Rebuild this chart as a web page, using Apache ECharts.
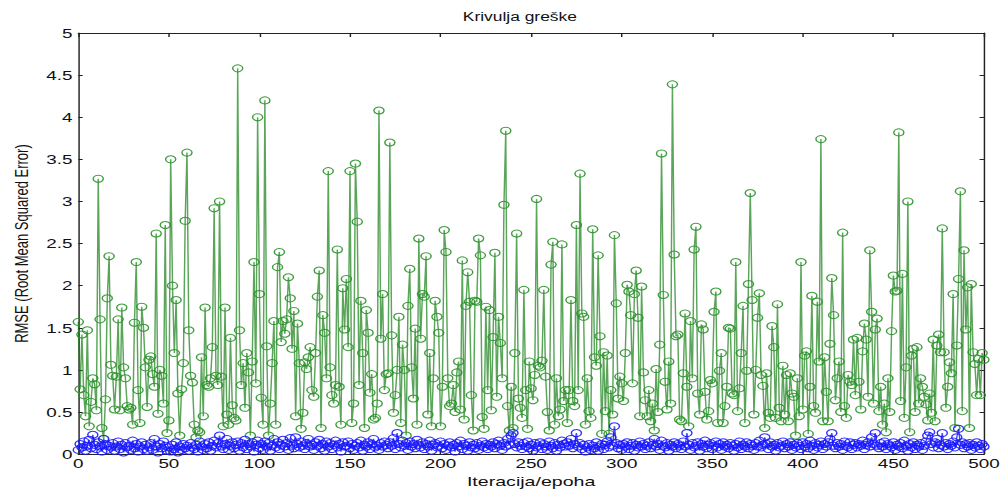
<!DOCTYPE html>
<html>
<head>
<meta charset="utf-8">
<script src="https://cdn.jsdelivr.net/npm/echarts@6/dist/echarts.min.js"></script>
<style>
html,body{margin:0;padding:0;background:#fff;overflow:hidden;width:1004px;height:494px;}
#chart{width:692px;height:494px;transform:scaleX(1.4509);transform-origin:0 0;}
</style>
</head>
<body>
<div id="chart"></div>
<script>
// Chart title and axis names
const chartTitle = 'Krivulja greške';
const xName = 'Iteracija/epoha';
const yName = 'RMSE (Root Mean Squared Error)';

// Green series (RMSE per iteration 0..500)
const rmseGreen = [
1.57,0.77,1.42,0.7,0.45,1.47,0.33,0.62,0.9,0.83,
0.52,3.27,1.6,0.31,0.18,0.65,1.85,2.35,1.06,0.93,
0.53,0.92,1.6,0.52,1.74,1.03,0.9,0.57,0.53,0.55,
0.35,1.56,2.28,0.76,0.37,1.75,1.5,1.03,0.56,1.12,
1.16,0.95,0.8,2.62,0.48,1.0,0.93,0.6,2.72,0.25,
0.4,3.5,2.0,1.2,1.83,0.72,0.22,0.77,1.08,2.77,
3.58,1.47,0.93,0.85,0.35,0.2,0.28,0.26,1.15,0.45,
1.74,0.82,0.8,0.9,1.27,2.92,0.93,0.82,3.0,0.92,
0.33,1.74,0.47,0.35,1.38,0.58,0.43,0.4,4.58,1.47,
0.82,1.08,0.55,1.2,0.97,0.22,1.1,2.28,0.84,4.0,
1.9,0.67,0.35,4.2,1.28,0.22,0.6,1.08,1.58,0.35,
2.22,2.4,1.33,1.58,1.43,1.6,2.1,1.85,1.25,1.7,
0.45,1.55,1.08,0.3,0.49,1.09,1.01,1.15,1.27,0.76,
0.68,1.2,1.87,2.18,0.31,1.65,1.44,0.9,3.36,1.03,
0.7,0.6,0.82,2.43,0.8,0.35,1.97,1.48,2.08,1.27,
3.36,0.37,0.6,3.45,2.76,0.82,1.82,1.2,0.31,1.71,
1.44,0.73,0.95,0.41,0.43,0.6,4.08,1.37,1.9,0.76,
0.95,0.96,3.7,1.41,0.49,0.7,1.0,1.63,0.37,1.3,
1.0,0.22,1.76,2.2,1.03,0.66,1.49,0.35,2.56,1.37,
1.9,1.87,2.35,0.47,1.2,0.33,0.9,1.82,1.63,1.44,
0.33,0.8,2.66,2.4,0.9,0.57,0.6,0.82,0.5,0.97,
1.1,0.53,2.3,0.41,1.76,2.16,1.81,0.7,0.28,1.82,
1.81,2.56,2.36,0.44,0.3,1.75,0.76,1.71,0.52,1.39,
2.39,0.68,1.63,1.32,0.9,2.96,3.84,0.57,0.28,0.8,
0.31,1.2,2.62,0.66,0.55,0.43,1.95,0.76,0.3,1.1,
0.78,0.64,0.94,3.03,1.05,1.03,1.11,1.95,0.92,0.5,
0.28,2.25,2.52,0.35,0.9,0.45,0.53,2.49,0.63,0.76,
0.37,0.76,1.83,0.63,0.57,2.72,0.76,3.33,1.67,1.63,
0.35,0.9,0.51,0.43,2.67,1.15,1.05,2.36,1.4,0.24,
1.21,0.51,1.17,0.24,0.76,0.47,2.6,1.79,0.66,0.92,
0.84,0.63,1.2,2.01,1.93,1.65,0.84,1.9,2.18,1.62,
0.45,1.99,0.97,0.64,0.45,0.76,0.39,0.6,0.28,1.01,
0.5,1.3,3.57,1.89,0.86,0.53,1.1,0.6,4.39,2.37,
1.4,1.42,0.41,0.39,0.96,1.67,0.8,0.33,1.58,0.9,
2.43,2.7,0.72,0.47,1.54,1.48,0.74,0.41,0.51,0.88,
0.84,1.69,1.93,0.37,0.99,1.2,0.37,0.57,0.8,1.5,
1.49,0.72,0.7,2.28,0.51,0.78,1.2,1.76,0.37,0.99,
2.02,3.1,1.83,0.47,1.0,1.62,1.91,0.94,0.81,0.31,
0.96,0.49,0.43,1.52,1.27,0.43,1.78,0.55,0.39,1.05,
0.47,0.94,0.39,0.96,0.72,0.68,0.22,0.9,0.45,2.28,
0.53,1.17,1.22,0.24,0.8,1.88,0.57,0.49,1.81,1.1,
3.74,0.39,1.15,0.74,0.39,1.31,2.09,1.65,0.64,0.9,
1.1,0.5,2.63,0.57,0.43,0.94,0.86,0.82,1.36,0.7,
1.38,0.86,0.53,1.22,1.55,1.36,0.68,2.42,1.69,0.6,
1.48,1.61,0.51,0.8,0.35,0.6,0.26,0.9,0.5,1.46,
2.12,1.93,1.94,3.82,0.63,2.14,0.43,1.03,3.0,0.26,
1.17,1.25,0.5,1.27,0.6,0.9,0.8,0.68,0.59,0.4,
0.72,0.49,1.36,0.39,1.29,1.42,1.21,2.68,1.21,0.55,
0.8,1.09,0.96,1.9,0.31,1.29,2.08,3.12,0.51,2.42,
1.48,1.98,0.31,2.02,1.21,1.07,0.7,1.13,0.7,1.2,
1.12
];

// Blue series (RMSE per iteration 0..500)
const rmseBlue = [
0.05,0.12,0.08,0.15,0.04,0.1,0.17,0.07,0.23,0.11,
0.06,0.14,0.09,0.03,0.18,0.12,0.05,0.1,0.08,0.13,
0.04,0.09,0.15,0.06,0.11,0.02,0.13,0.08,0.1,0.05,
0.16,0.07,0.12,0.03,0.09,0.14,0.06,0.11,0.04,0.08,
0.13,0.05,0.18,0.09,0.02,0.12,0.07,0.15,0.1,0.04,
0.08,0.03,0.11,0.06,0.14,0.02,0.09,0.05,0.12,0.07,
0.1,0.04,0.13,0.08,0.06,0.11,0.03,0.15,0.09,0.05,
0.12,0.07,0.14,0.04,0.1,0.16,0.08,0.13,0.22,0.09,
0.06,0.12,0.18,0.05,0.1,0.14,0.07,0.11,0.15,0.04,
0.13,0.08,0.17,0.06,0.12,0.09,0.14,0.03,0.11,0.16,
0.07,0.12,0.05,0.15,0.09,0.13,0.04,0.1,0.18,0.08,
0.14,0.06,0.11,0.17,0.09,0.13,0.05,0.19,0.1,0.07,
0.2,0.12,0.08,0.15,0.1,0.06,0.13,0.18,0.09,0.11,
0.05,0.14,0.1,0.17,0.07,0.12,0.04,0.15,0.09,0.13,
0.06,0.11,0.16,0.08,0.12,0.03,0.14,0.09,0.1,0.15,
0.07,0.12,0.05,0.1,0.13,0.08,0.16,0.04,0.11,0.09,
0.14,0.06,0.12,0.18,0.08,0.1,0.05,0.13,0.09,0.15,
0.11,0.07,0.14,0.1,0.19,0.06,0.25,0.12,0.08,0.16,
0.1,0.13,0.05,0.15,0.09,0.12,0.07,0.17,0.11,0.08,
0.14,0.06,0.12,0.09,0.16,0.04,0.11,0.13,0.08,0.1,
0.15,0.07,0.12,0.05,0.1,0.14,0.08,0.11,0.03,0.13,
0.09,0.16,0.06,0.12,0.1,0.04,0.14,0.08,0.11,0.07,
0.13,0.05,0.1,0.15,0.08,0.12,0.06,0.11,0.09,0.14,
0.07,0.12,0.16,0.1,0.05,0.13,0.09,0.18,0.11,0.22,
0.25,0.12,0.08,0.14,0.1,0.06,0.13,0.09,0.15,0.07,
0.11,0.04,0.13,0.08,0.1,0.14,0.06,0.12,0.09,0.05,
0.15,0.1,0.07,0.13,0.04,0.11,0.08,0.16,0.12,0.09,
0.14,0.1,0.18,0.07,0.12,0.25,0.09,0.13,0.06,0.11,
0.03,0.08,0.12,0.05,0.1,0.07,0.14,0.04,0.09,0.12,
0.06,0.11,0.15,0.08,0.2,0.1,0.33,0.13,0.07,0.11,
0.05,0.12,0.09,0.14,0.06,0.1,0.13,0.04,0.11,0.08,
0.15,0.09,0.12,0.06,0.1,0.14,0.07,0.11,0.18,0.09,
0.12,0.05,0.16,0.1,0.08,0.13,0.04,0.11,0.09,0.14,
0.07,0.12,0.1,0.06,0.15,0.09,0.25,0.11,0.05,0.13,
0.08,0.1,0.14,0.04,0.12,0.09,0.16,0.07,0.11,0.13,
0.06,0.1,0.15,0.08,0.12,0.05,0.14,0.09,0.11,0.07,
0.13,0.1,0.04,0.12,0.08,0.15,0.06,0.11,0.09,0.14,
0.07,0.12,0.1,0.05,0.13,0.09,0.16,0.08,0.11,0.2,
0.12,0.06,0.14,0.09,0.11,0.04,0.13,0.08,0.1,0.15,
0.07,0.12,0.09,0.14,0.05,0.11,0.08,0.13,0.1,0.06,
0.14,0.09,0.12,0.07,0.16,0.1,0.05,0.13,0.08,0.11,
0.15,0.06,0.12,0.09,0.14,0.18,0.25,0.1,0.07,0.13,
0.09,0.12,0.05,0.15,0.1,0.08,0.14,0.06,0.11,0.13,
0.08,0.12,0.1,0.16,0.06,0.11,0.14,0.09,0.2,0.12,
0.25,0.1,0.07,0.13,0.09,0.15,0.06,0.12,0.1,0.08,
0.14,0.05,0.11,0.09,0.13,0.07,0.16,0.1,0.04,0.12,
0.08,0.14,0.06,0.11,0.09,0.13,0.05,0.1,0.15,0.22,
0.26,0.12,0.08,0.14,0.18,0.07,0.11,0.25,0.09,0.13,
0.06,0.12,0.1,0.15,0.08,0.2,0.3,0.11,0.14,0.07,
0.12,0.09,0.13,0.05,0.11,0.08,0.14,0.1,0.06,0.12,
0.09
];

// Axis ranges
const xMin = 0, xMax = 500, xStep = 50;
const yMin = 0, yMax = 5, yStep = 0.5;

const FONT = 'Liberation Sans, Arial, sans-serif';
const toPairs = arr => arr.map((v, i) => [i, v]);

const chart = echarts.init(document.getElementById('chart'), null, {renderer: 'svg', width: 692, height: 494});

const axisCommonX = {
  type: 'value', min: xMin, max: xMax, interval: xStep,
  axisLine: {show: true, onZero: false, lineStyle: {color: '#222', width: 1}},
  axisTick: {show: true, inside: true, length: 4, lineStyle: {color: '#222'}},
  splitLine: {show: false}
};
const axisCommonY = {
  type: 'value', min: yMin, max: yMax, interval: yStep,
  axisLine: {show: true, onZero: false, lineStyle: {color: '#222', width: 1}},
  axisTick: {show: true, inside: true, length: 3, lineStyle: {color: '#222'}},
  splitLine: {show: false}
};

chart.setOption({
  animation: false,
  backgroundColor: '#fff',
  grid: {left: 51, right: 11.7, top: 33, bottom: 32, containLabel: false},
  title: {
    text: chartTitle, left: 319, top: 11, padding: 0,
    textStyle: {color: '#111', fontSize: 12, fontWeight: 'normal', fontFamily: FONT}
  },
  xAxis: [
    Object.assign({}, axisCommonX, {
      position: 'bottom',
      axisLabel: {color: '#111', fontSize: 13, fontFamily: FONT, margin: 3},
      name: xName, nameLocation: 'middle', nameGap: 20,
      nameTextStyle: {color: '#111', fontSize: 13.5, fontFamily: FONT}
    }),
    Object.assign({}, axisCommonX, {position: 'top', axisLabel: {show: false}})
  ],
  yAxis: [
    Object.assign({}, axisCommonY, {
      position: 'left',
      axisLabel: {color: '#111', fontSize: 13, fontFamily: FONT, margin: 4},
      name: yName, nameLocation: 'middle', nameGap: 31,
      nameTextStyle: {color: '#111', fontSize: 13, fontFamily: FONT}
    }),
    Object.assign({}, axisCommonY, {position: 'right', axisLabel: {show: false}})
  ],
  series: [
    {
      type: 'line', data: toPairs(rmseGreen), silent: true,
      symbol: 'circle', symbolSize: 7, showSymbol: true, showAllSymbol: true,
      lineStyle: {color: '#147f14', width: 1, opacity: 0.7},
      itemStyle: {color: 'rgba(0,0,0,0)', borderColor: '#2a922a', borderWidth: 1, opacity: 0.9},
      z: 2
    },
    {
      type: 'line', data: toPairs(rmseBlue), silent: true,
      symbol: 'circle', symbolSize: 7, showSymbol: true, showAllSymbol: true,
      lineStyle: {color: '#0000ee', width: 1, opacity: 0.7},
      itemStyle: {color: 'rgba(0,0,0,0)', borderColor: '#1a1aff', borderWidth: 1, opacity: 0.9},
      z: 3
    }
  ]
});
</script>
</body>
</html>
